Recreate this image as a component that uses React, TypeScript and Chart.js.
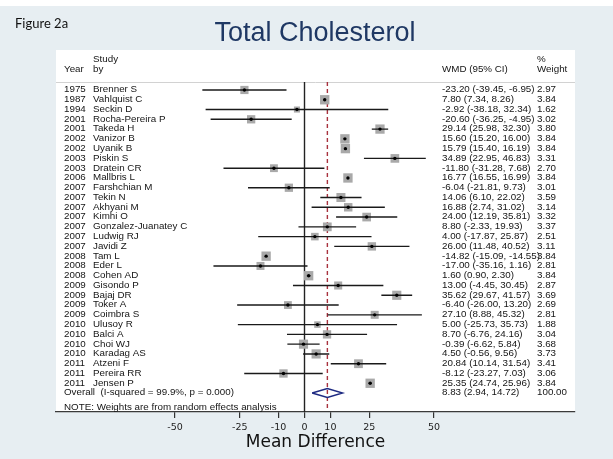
import React, { useEffect, useRef } from 'react';
import { Chart, registerables } from 'chart.js';

Chart.register(...registerables);

// ---------- data ----------
const years = [1975, 1987, 1994, 2001, 2001, 2002, 2002, 2003, 2003, 2006, 2007, 2007, 2007, 2007, 2007, 2007, 2007, 2008, 2008, 2008, 2009, 2009, 2009, 2009, 2010, 2010, 2010, 2010, 2011, 2011, 2011];
const authors = ['Brenner S', 'Vahlquist C', 'Seckin D', 'Rocha-Pereira P', 'Takeda H', 'Vanizor B', 'Uyanik B', 'Piskin S', 'Dratein CR', 'Mallbris L', 'Farshchian M', 'Tekin N', 'Akhyani M', 'Kimhi O', 'Gonzalez-Juanatey C', 'Ludwig RJ', 'Javidi Z', 'Tam L', 'Eder L', 'Cohen AD', 'Gisondo P', 'Bajaj DR', 'Toker A', 'Coimbra S', 'Ulusoy R', 'Balci A', 'Choi WJ', 'Karadag AS', 'Atzeni F', 'Pereira RR', 'Jensen P'];
const wmd = [-23.20, 7.80, -2.92, -20.60, 29.14, 15.60, 15.79, 34.89, -11.80, 16.77, -6.04, 14.06, 16.88, 24.00, 8.80, 4.00, 26.00, -14.82, -17.00, 1.60, 13.00, 35.62, -6.40, 27.10, 5.00, 8.70, -0.39, 4.50, 20.84, -8.12, 25.35];
const lower = [-39.45, 7.34, -38.18, -36.25, 25.98, 15.20, 15.40, 22.95, -31.28, 16.55, -21.81, 6.10, 2.74, 12.19, -2.33, -17.87, 11.48, -15.09, -35.16, 0.90, -4.45, 29.67, -26.00, 8.88, -25.73, -6.76, -6.62, -0.56, 10.14, -23.27, 24.74];
const upper = [-6.95, 8.26, 32.34, -4.95, 32.30, 16.00, 16.19, 46.83, 7.68, 16.99, 9.73, 22.02, 31.02, 35.81, 19.93, 25.87, 40.52, -14.55, 1.16, 2.30, 30.45, 41.57, 13.20, 45.32, 35.73, 24.16, 5.84, 9.56, 31.54, 7.03, 25.96];
const weights = [2.97, 3.84, 1.62, 3.02, 3.80, 3.84, 3.84, 3.31, 2.70, 3.84, 3.01, 3.59, 3.14, 3.32, 3.37, 2.51, 3.11, 3.84, 2.81, 3.84, 2.87, 3.69, 2.69, 2.81, 1.88, 3.04, 3.68, 3.73, 3.41, 3.06, 3.84];
const overallEstimate = [8.83];
const overallLower = [2.94];
const overallUpper = [14.72];
const overallWeight = ['100.00'];
const overallLabel = 'Overall  (I-squared = 99.9%, p = 0.000)';
const noteLabel = 'NOTE: Weights are from random effects analysis';
const tickValues = [-50, -25, -10, 0, 10, 25, 50];

// ---------- layout constants ----------
const X_MIN = -95.95;
const X_MAX = 104.44;
const Y_MIN = -4.09;
const Y_MAX = 32.94;
const LINE_TOP = -0.82;
const OVERALL_ROW = authors.length;
const TEXT_FONT = '8.6px "Liberation Sans", Arial, sans-serif';
const SX = 1.14;

function drawText(ctx: CanvasRenderingContext2D, s: string, x: number, y: number) {
  ctx.save();
  ctx.translate(x, y);
  ctx.scale(SX, 1);
  ctx.fillText(s, 0, 0);
  ctx.restore();
}

const fmt = (v: number) => v.toFixed(2);

const decorPlugin = {
  id: 'forestDecor',
  beforeDraw(chart: any) {
    const { ctx, chartArea: a, width, height } = chart;
    const ys = chart.scales.y;
    ctx.save();
    ctx.fillStyle = '#e7eef2';
    ctx.fillRect(0, 0, width, height);
    ctx.fillStyle = '#ffffff';
    ctx.fillRect(0, 0, width, 6);
    ctx.fillRect(a.left, a.top, a.right - a.left, a.bottom - a.top);
    const sepY = Math.round(ys.getPixelForValue(LINE_TOP)) + 0.5;
    ctx.strokeStyle = '#d2d2d2';
    ctx.lineWidth = 1;
    ctx.beginPath();
    ctx.moveTo(a.left, sepY);
    ctx.lineTo(a.right, sepY);
    ctx.stroke();

    ctx.fillStyle = '#111';
    ctx.textBaseline = 'middle';
    ctx.textAlign = 'left';
    ctx.font = '13px Lato, "Open Sans", sans-serif';
    ctx.fillText('Figure 2a', 15, 24);

    ctx.fillStyle = '#1f3864';
    ctx.textAlign = 'center';
    ctx.font = '27px "Liberation Sans", Arial, sans-serif';
    ctx.fillText('Total Cholesterol', 315, 34);
    ctx.restore();
  },
  afterDraw(chart: any) {
    const { ctx } = chart;
    const ys = chart.scales.y;
    ctx.save();
    ctx.fillStyle = '#141414';
    ctx.textBaseline = 'middle';
    ctx.textAlign = 'left';
    ctx.font = TEXT_FONT;
    const colYear = 64, colName = 93, colWmd = 442, colW = 537;
    const h1 = ys.getPixelForValue(-3.08);
    const h2 = ys.getPixelForValue(-2.05);
    drawText(ctx, 'Study', colName, h1);
    drawText(ctx, 'Year', colYear, h2);
    drawText(ctx, 'by', colName, h2);
    drawText(ctx, 'WMD (95% CI)', colWmd, h2);
    drawText(ctx, '%', colW, h1);
    drawText(ctx, 'Weight', colW, h2);
    authors.forEach((name, i) => {
      const y = ys.getPixelForValue(i);
      drawText(ctx, String(years[i]), colYear, y);
      drawText(ctx, name, colName, y);
      drawText(ctx, `${fmt(wmd[i])} (${fmt(lower[i])}, ${fmt(upper[i])})`, colWmd, y);
      drawText(ctx, fmt(weights[i]), colW, y);
    });
    const yo = ys.getPixelForValue(OVERALL_ROW);
    drawText(ctx, overallLabel, colYear, yo);
    drawText(ctx, `${fmt(overallEstimate[0])} (${fmt(overallLower[0])}, ${fmt(overallUpper[0])})`, colWmd, yo);
    drawText(ctx, overallWeight[0], colW, yo);
    drawText(ctx, noteLabel, colYear, ys.getPixelForValue(OVERALL_ROW + 1.5));
    ctx.restore();
  },
};

export default function App() {
  const ref = useRef<HTMLCanvasElement>(null);
  useEffect(() => {
    const canvas = ref.current;
    if (!canvas) return;

    const rows = authors.map((_, i) => i);
    const ciData: any[] = [];
    rows.forEach((i) => {
      ciData.push({ x: lower[i], y: i });
      ciData.push({ x: upper[i], y: i });
      ciData.push({ x: null, y: null });
    });
    const d = 0.46;
    const diamond = [
      { x: overallLower[0], y: OVERALL_ROW },
      { x: overallEstimate[0], y: OVERALL_ROW - d },
      { x: overallUpper[0], y: OVERALL_ROW },
      { x: overallEstimate[0], y: OVERALL_ROW + d },
      { x: overallLower[0], y: OVERALL_ROW },
    ];

    const chart = new Chart(canvas, {
      type: 'scatter',
      data: {
        datasets: [
          {
            label: 'centre',
            data: rows.map((i) => ({ x: wmd[i], y: i })),
            pointStyle: 'circle',
            pointRadius: 1.7,
            pointBackgroundColor: '#000',
            pointBorderWidth: 0,
          },
          {
            label: 'ci',
            data: ciData,
            showLine: true,
            spanGaps: false,
            borderColor: '#1a1a1a',
            borderWidth: 1.4,
            pointRadius: 0,
          },
          {
            label: 'weight',
            data: rows.map((i) => ({ x: wmd[i], y: i })),
            pointStyle: 'rect',
            pointRadius: rows.map((i) => 6.6 * Math.sqrt(weights[i] / 3.84)),
            pointBackgroundColor: '#a9a9a9',
            pointBorderWidth: 0,
          },
          {
            label: 'overall',
            data: diamond,
            showLine: true,
            borderColor: '#1e2a82',
            borderWidth: 1.4,
            pointRadius: 0,
            tension: 0,
          },
          {
            label: 'pooled',
            data: [
              { x: overallEstimate[0], y: LINE_TOP },
              { x: overallEstimate[0], y: Y_MAX - 0.15 },
            ],
            showLine: true,
            borderColor: '#a8323e',
            borderWidth: 1.4,
            borderDash: [4, 3],
            pointRadius: 0,
          },
          {
            label: 'zero',
            data: [
              { x: 0, y: LINE_TOP },
              { x: 0, y: Y_MAX },
            ],
            showLine: true,
            borderColor: '#222',
            borderWidth: 1.4,
            pointRadius: 0,
          },
        ],
      } as any,
      options: {
        responsive: false,
        animation: false,
        devicePixelRatio: 1,
        events: [],
        layout: { padding: { left: 56, right: 38, top: 50, bottom: 0 } },
        plugins: {
          legend: { display: false },
          tooltip: { enabled: false },
          title: { display: false },
        },
        scales: {
          x: {
            type: 'linear',
            min: X_MIN,
            max: X_MAX,
            afterBuildTicks: (s: any) => {
              s.ticks = tickValues.map((v) => ({ value: v }));
            },
            afterFit: (s: any) => {
              s.height = 47;
            },
            grid: { drawOnChartArea: false, drawTicks: true, tickLength: 6, color: '#333', lineWidth: 1.2 },
            border: { display: true, color: '#3a3a3a', width: 1.3 },
            ticks: {
              font: { family: 'DejaVu Sans', size: 9.5, lineHeight: 1.2 },
              color: '#222',
              padding: 4,
              autoSkip: false,
              maxRotation: 0,
              callback: (v: any) => String(v),
            },
            title: {
              display: true,
              text: 'Mean Difference',
              color: '#111',
              font: { family: 'DejaVu Sans', size: 17, lineHeight: 1.2 },
              padding: { top: 0, bottom: 6.6 },
            },
          },
          y: {
            type: 'linear',
            display: false,
            reverse: true,
            min: Y_MIN,
            max: Y_MAX,
          },
        },
      } as any,
      plugins: [decorPlugin],
    });
    return () => chart.destroy();
  }, []);

  return (
    <div style={{ position: 'absolute', left: 0, top: 0, width: 613, height: 459 }}>
      <canvas ref={ref} width={613} height={459} style={{ display: 'block', width: 613, height: 459 }} />
    </div>
  );
}
